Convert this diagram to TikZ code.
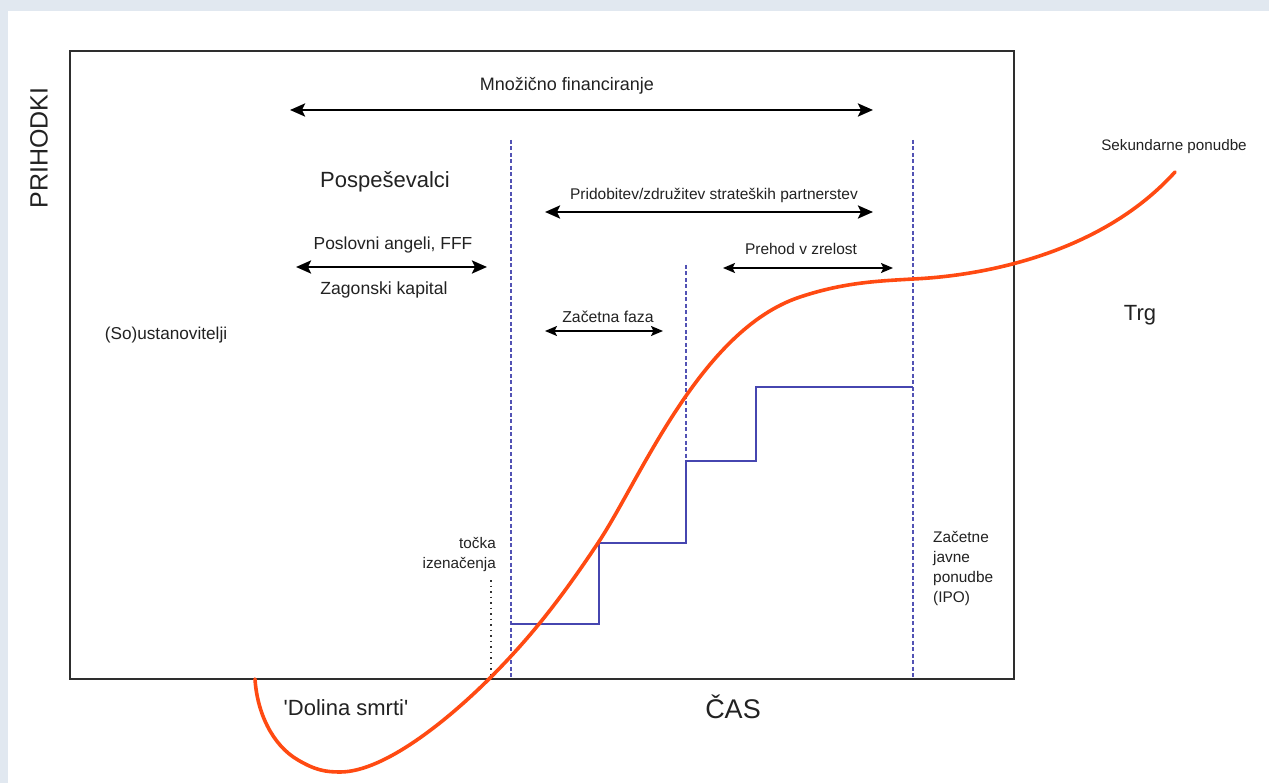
\documentclass[tikz,border=0pt]{standalone}
\usepackage{fontspec}
\setmainfont{Liberation Sans}
\newfontfamily\plainfont{Liberation Sans}
\usetikzlibrary{arrows.meta}
\definecolor{bgblue}{HTML}{E1E8F0}
\definecolor{boxgray}{HTML}{2E2E2E}
\definecolor{curveor}{HTML}{FF4A12}
\definecolor{stairblue}{HTML}{4646B0}
\definecolor{dashblue}{HTML}{5252B4}
\definecolor{txt}{HTML}{222222}
\newcommand{\fs}[1]{\fontsize{#1}{#1}\selectfont}
\tikzset{
  lbl/.style={inner sep=0pt, anchor=mid, text=txt},
  arr/.style={line width=2.6pt, black, {Stealth[length=15pt,width=13pt,inset=3pt]}-{Stealth[length=15pt,width=13pt,inset=3pt]}},
  arrs/.style={line width=2pt, black, {Stealth[length=12pt,width=10pt,inset=2.5pt]}-{Stealth[length=12pt,width=10pt,inset=2.5pt]}},
  vdash/.style={dashblue, line width=1.6pt, dash pattern=on 4pt off 2.5pt},
  stairs/.style={stairblue, line width=1.7pt},
  growth/.style={curveor, line width=3.6pt, line cap=round},
}
\begin{document}
\begin{tikzpicture}[x=1pt,y=-1pt]
\fill[bgblue] (0,0) rectangle (1269,783);
\fill[white] (8,11) rectangle (1269,783);
\useasboundingbox (0,0) rectangle (1269,783);

% frame
\draw[boxgray, line width=2pt] (70,51) rectangle (1014,679);

% vertical guides
\coordinate (d1t) at (511,140); \coordinate (d1b) at (511,679);
\coordinate (d2t) at (686,265); \coordinate (d2b) at (686,461);
\coordinate (d3t) at (913,140); \coordinate (d3b) at (913,679);
\draw[vdash] (d1t) -- (d1b);
\draw[vdash] (d2t) -- (d2b);
\draw[vdash] (d3t) -- (d3b);
\coordinate (bet) at (491,580); \coordinate (beb) at (491,679);
\draw[black!80, line width=1.5pt, dash pattern=on 1.5pt off 4pt] (bet) -- (beb);

% staircase
\draw[stairs] (511,624) -- (599,624) -- (599,543) -- (686,543) -- (686,461) -- (756,461) -- (756,387) -- (913,387);

% growth curve
\draw[growth] (255,679) .. controls (257,712) and (272,745) .. (298,760)
  .. controls (315,770) and (325,772) .. (340,772)
  .. controls (385,772) and (450,718) .. (490,678)
  .. controls (530,638) and (560,600) .. (598,543)
  .. controls (640,480) and (700,330) .. (800,297)
  .. controls (845,282) and (880,281) .. (913,279)
  .. controls (980,276) and (1100,255) .. (1175,172);

% arrows
\coordinate (a1l) at (290,110); \coordinate (a1r) at (873,110);
\coordinate (a2l) at (296,267); \coordinate (a2r) at (487,267);
\coordinate (a3l) at (545,212); \coordinate (a3r) at (873,212);
\coordinate (a4l) at (723,268); \coordinate (a4r) at (893,268);
\coordinate (a5l) at (545,331); \coordinate (a5r) at (663,331);
\draw[arr] (a1l) -- (a1r);
\draw[arr] (a2l) -- (a2r);
\draw[arr] (a3l) -- (a3r);
\draw[arrs] (a4l) -- (a4r);
\draw[arrs] (a5l) -- (a5r);

% labels
\node[lbl, font=\fs{18}] (mnoz) at (567,88) {Množično financiranje};
\node[lbl, font=\fs{22}] (posp) at (385,185) {Pospeševalci};
\node[lbl, font=\fs{17.4}] (angel) at (393,247) {Poslovni angeli, FFF};
\node[lbl, font=\fs{17.6}] (zag) at (384,292) {Zagonski kapital};
\node[lbl, font=\fs{17.2}] (sous) at (166,337) {(So)ustanovitelji};
\node[lbl, font=\fs{15.5}] (prid) at (714,197) {Pridobitev/združitev strateških partnerstev};
\node[lbl, font=\fs{15.5}] (preh) at (801,252) {Prehod v zrelost};
\node[lbl, font=\fs{15.8}] (zac) at (608,320) {Začetna faza};
\node[lbl, font=\fs{15.2}] (sek) at (1174,148) {Sekundarne ponudbe};
\node[lbl, font=\fs{22}] (trg) at (1140,318) {Trg};
\node[lbl, font=\fs{27}] (cas) at (733,716) {ČAS};
\node[lbl, font=\plainfont\fs{22}] (dol) at (346,713) {'Dolina smrti'};
\node[lbl, font=\fs{25}, rotate=90] (prih) at (45,148) {PRIHODKI};
\node[inner sep=0pt, anchor=north east, align=right, text=txt, font=\fontsize{15.3}{20}\selectfont] (tocka) at (496,537) {točka\\izenačenja};
\node[inner sep=0pt, anchor=north west, align=left, text=txt, font=\fontsize{15.4}{20}\selectfont] (ipo) at (933,531) {Začetne\\javne\\ponudbe\\(IPO)};
\end{tikzpicture}
\end{document}
